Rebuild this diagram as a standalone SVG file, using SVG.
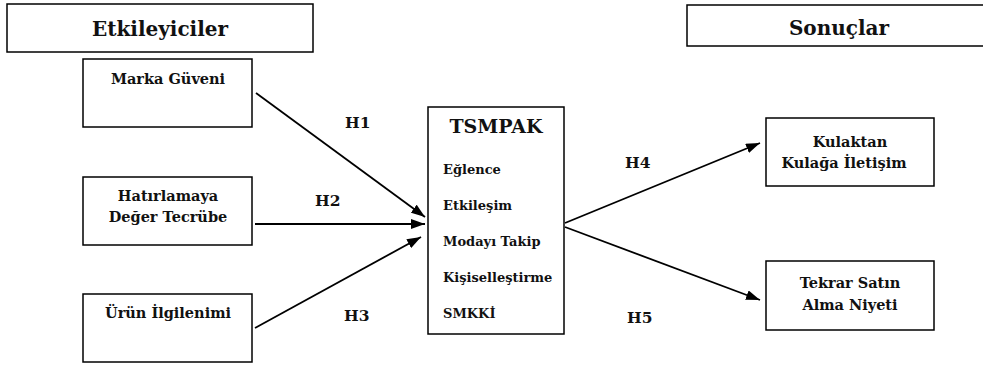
<svg xmlns="http://www.w3.org/2000/svg" width="983" height="366" viewBox="0 0 983 366">
<style>
rect{fill:#fff;stroke:#000;stroke-width:1.5}
text{font-family:'DejaVu Serif',serif;font-weight:bold;fill:#111}
.h{font-size:20px;text-anchor:middle}
.n{font-size:14.5px;text-anchor:middle}
.l{font-size:15.5px}
.i{font-size:13px}
.c line{stroke:#000;stroke-width:1.8;marker-end:url(#a)}
</style>
<defs><marker id="a" viewBox="0 0 14 10" refX="14" refY="5" markerWidth="14" markerHeight="10" markerUnits="userSpaceOnUse" orient="auto"><path d="M0,0L14,5L0,10z" fill="#000"/></marker></defs>
<rect width="983" height="366" style="stroke:none"/>
<g id="etkileyiciler"><rect x="7" y="4" width="306" height="48"/><text class="h" x="160" y="36">Etkileyiciler</text></g>
<g id="sonuclar"><rect x="687" y="5" width="300" height="41"/><text class="h" x="839" y="35">Sonuçlar</text></g>
<g id="marka"><rect x="83" y="59" width="169" height="68"/><text class="n" x="168" y="84">Marka Güveni</text></g>
<g id="hatirlamaya"><rect x="83" y="177" width="169" height="68"/><text class="n" x="168" y="201">Hatırlamaya</text><text class="n" x="168" y="222">Değer Tecrübe</text></g>
<g id="urun"><rect x="83" y="294" width="169" height="68"/><text class="n" x="168" y="318">Ürün İlgilenimi</text></g>
<g id="tsmpak"><rect x="428" y="107" width="136" height="227"/><text x="496" y="133" style="font-size:19px;text-anchor:middle">TSMPAK</text>
<text class="i" x="443" y="174">Eğlence</text><text class="i" x="443" y="210">Etkileşim</text><text class="i" x="443" y="246">Modayı Takip</text><text class="i" x="443" y="282">Kişiselleştirme</text><text class="i" x="443" y="318">SMKKİ</text></g>
<g id="kulaktan"><rect x="766" y="118" width="168" height="68"/><text class="n" x="850" y="147">Kulaktan</text><text class="n" x="844" y="168">Kulağa İletişim</text></g>
<g id="tekrar"><rect x="766" y="261" width="168" height="69"/><text class="n" x="850" y="288">Tekrar Satın</text><text class="n" x="850" y="310">Alma Niyeti</text></g>
<g class="c" id="connectors">
<line x1="256" y1="93" x2="425" y2="217"/>
<line x1="255" y1="224" x2="425" y2="224"/>
<line x1="255" y1="328" x2="421" y2="237"/>
<line x1="565" y1="223" x2="760" y2="143"/>
<line x1="565" y1="227" x2="760" y2="300"/>
</g>
<g id="labels">
<text class="l" x="345" y="128">H1</text><text class="l" x="315" y="206">H2</text><text class="l" x="344" y="321">H3</text><text class="l" x="625" y="168">H4</text><text class="l" x="627" y="323">H5</text>
</g>
</svg>
